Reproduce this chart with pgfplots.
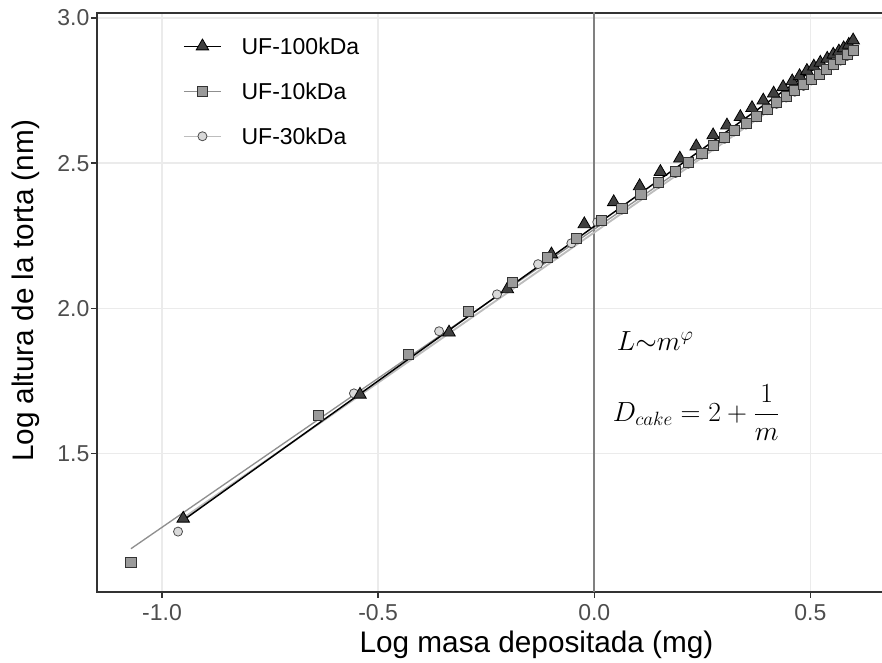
\documentclass[border=0pt]{standalone}
\usepackage[no-math]{fontspec}
\setmainfont{Liberation Sans}
\usepackage{pgfplots}
\usepackage{pgfplotstable}
\pgfplotsset{compat=1.18}
\definecolor{c20}{HTML}{333333}
\definecolor{gridc}{HTML}{EBEBEB}
\definecolor{tickc}{HTML}{4D4D4D}
\definecolor{vlc}{HTML}{808080}
\definecolor{trif}{HTML}{404040}
\definecolor{sqf}{HTML}{9A9A9A}
\definecolor{cif}{HTML}{D9D9D9}
\definecolor{sql}{HTML}{8F8F8F}
\definecolor{cil}{HTML}{BDBDBD}

% UF-100kDa (triangles)
\pgfplotstableread{
x y
-0.951 1.276
-0.542 1.703
-0.336 1.917
-0.201 2.066
-0.099 2.186
-0.023 2.290
0.045 2.366
0.105 2.421
0.153 2.470
0.198 2.516
0.236 2.558
0.275 2.596
0.307 2.630
0.338 2.659
0.365 2.690
0.391 2.716
0.415 2.740
0.437 2.762
0.458 2.782
0.475 2.800
0.492 2.818
0.508 2.833
0.523 2.846
0.539 2.860
0.553 2.874
0.566 2.885
0.577 2.896
0.589 2.908
0.599 2.923
}\tri

% UF-10kDa (squares)
\pgfplotstableread{
x y
-1.072 1.126
-0.639 1.631
-0.431 1.841
-0.292 1.990
-0.190 2.090
-0.109 2.176
-0.042 2.241
0.016 2.304
0.064 2.344
0.108 2.393
0.149 2.433
0.188 2.470
0.218 2.502
0.249 2.533
0.276 2.562
0.302 2.588
0.324 2.613
0.351 2.637
0.376 2.662
0.400 2.686
0.422 2.708
0.444 2.730
0.464 2.750
0.484 2.770
0.502 2.789
0.520 2.807
0.537 2.824
0.554 2.841
0.570 2.857
0.585 2.873
0.600 2.889
}\sq

% UF-30kDa (circles)
\pgfplotstableread{
x y
-0.963 1.231
-0.556 1.707
-0.359 1.921
-0.225 2.048
-0.130 2.152
-0.053 2.224
0.007 2.297
0.064 2.340
0.108 2.389
0.149 2.429
0.188 2.466
0.218 2.498
0.249 2.529
0.276 2.558
0.302 2.584
0.324 2.609
0.351 2.633
0.376 2.658
0.400 2.682
0.422 2.704
0.444 2.726
0.464 2.746
0.484 2.766
0.502 2.785
0.520 2.803
0.537 2.820
0.554 2.837
0.570 2.853
0.585 2.869
0.600 2.885
}\ci

\begin{document}
\begin{tikzpicture}
\begin{axis}[
  scale only axis, width=591.75pt, height=434.25pt,
  at={(0,0)}, anchor=south west,
  xmin=-1.1505, xmax=0.675, ymin=1.023, ymax=3.017,
  xtick={-1,-0.5,0,0.5}, ytick={1.5,2,2.5,3},
  xtick pos=bottom, ytick pos=left,
  tick align=outside, major tick length=4.5pt,
  tick style={draw=c20, line width=1.1pt},
  axis line style={draw=c20, line width=1.1pt},
  grid=major, major grid style={draw=gridc, line width=1.1pt},
  xticklabel={\pgfmathprintnumber[assume math mode=true,fixed,fixed zerofill,precision=1]{\tick}},
  yticklabel={\pgfmathprintnumber[assume math mode=true,fixed,fixed zerofill,precision=1]{\tick}},
  ticklabel style={font=\fontsize{17.25}{20}\selectfont, text=tickc},
  xticklabel style={inner sep=0pt, yshift=-4.5pt},
  yticklabel style={inner sep=0pt, xshift=-1pt},
  xlabel={Log masa depositada (mg)},
  ylabel={Log altura de la torta (nm)},
  xlabel style={font=\fontsize{22.3}{26}\selectfont, at={(axis description cs:0.557,0)}, anchor=base, yshift=-45.75pt},
  ylabel style={font=\fontsize{22.3}{26}\selectfont, at={(axis description cs:-0.0808,0.52)}, anchor=base},
  legend style={at={(axis description cs:0.109,0.9575)}, anchor=north west, draw=none, fill=none, inner sep=0pt, row sep=21.15pt, column sep=15pt, font=\fontsize{17.25}{20}\selectfont, nodes={inner sep=0pt, text height=12.6pt, text depth=0pt}},
  legend cell align=left,
  legend image code/.code={\draw[mark repeat=2,mark phase=2,#1] plot coordinates {(0pt,0pt) (13.9pt,0pt) (27.75pt,0pt)};},
]
% legend entries
\addlegendimage{draw=black, line width=1pt, mark=triangle*, mark size=5.4pt, mark options={fill=trif, draw=black, line width=0.6pt, solid}}
\addlegendentry{UF-100kDa}
\addlegendimage{draw=sql, line width=1pt, mark=square*, mark size=3.6pt, mark options={fill=sqf, draw=c20, line width=0.6pt, solid}}
\addlegendentry{UF-10kDa}
\addlegendimage{draw=cil, line width=1pt, mark=*, mark size=3.4pt, mark options={fill=cif, draw=tickc, line width=0.6pt, solid}}
\addlegendentry{UF-30kDa}

% vertical reference line at x = 0
\addplot[forget plot, draw=vlc, line width=1.3pt] coordinates {(0,1.0) (0,3.1)};

% linear fits
\addplot[forget plot, draw=cil, line width=1.4pt] coordinates {(-0.963,1.265) (0.600,2.882)};
\addplot[forget plot, draw=sql, line width=1pt] coordinates {(-1.072,1.172) (0.600,2.888)};
\addplot[forget plot, draw=black, line width=1.1pt] coordinates {(-0.951,1.270) (0.599,2.920)};

% points
\addplot[forget plot, only marks, mark=*, mark size=3.4pt, mark options={fill=cif, draw=tickc, line width=0.6pt}] table {\ci};
\addplot[forget plot, only marks, mark=triangle*, mark size=5.4pt, mark options={fill=trif, draw=black, line width=0.6pt}] table {\tri};
\addplot[forget plot, only marks, mark=square*, mark size=3.8pt, mark options={fill=sqf, draw=c20, line width=0.6pt}] table {\sq};

\node[anchor=base west, font=\fontsize{20}{24}\selectfont] at (axis cs:0.0417,1.856) {$L{\sim}m^{\varphi}$};
\node[anchor=base west, font=\fontsize{19.5}{23}\selectfont] at (axis cs:0.032,1.610) {$D_{cake} = 2 + \displaystyle\frac{1}{m}$};
\end{axis}
\pgfresetboundingbox
\path[use as bounding box] (-72.75pt,-53.25pt) rectangle (588.75pt,444pt);
\end{tikzpicture}
\end{document}
